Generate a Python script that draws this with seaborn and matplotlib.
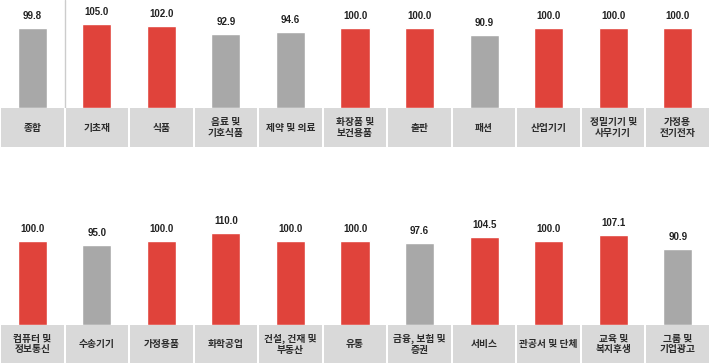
import matplotlib
matplotlib.use('Agg')
import matplotlib.pyplot as plt
from matplotlib.patches import Rectangle
import seaborn as sns

# 데이터 (위쪽 줄 / 아래쪽 줄)
top_cats = ['종합', '기초재', '식품', '음료 및\n기호식품', '제약 및 의료', '화장품 및\n보건용품',
            '출판', '패션', '산업기기', '정밀기기 및\n사무기기', '가정용\n전기전자']
top_vals = [99.8, 105.0, 102.0, 92.9, 94.6, 100.0, 100.0, 90.9, 100.0, 100.0, 100.0]

bottom_cats = ['컴퓨터 및\n정보통신', '수송기기', '가정용품', '화학공업', '건설, 건재 및\n부동산', '유통',
               '금융, 보험 및\n증권', '서비스', '관공서 및 단체', '교육 및\n복지후생', '그룹 및\n기업광고']
bottom_vals = [100.0, 95.0, 100.0, 110.0, 100.0, 100.0, 97.6, 104.5, 100.0, 107.1, 90.9]

RED = '#e0433b'
GREY = '#a8a8a8'
BOX = '#d9d9d9'

sns.set_style('white')
plt.rcParams['font.family'] = ['Noto Sans CJK KR', 'DejaVu Sans']

W, H = 710, 363
fig = plt.figure(figsize=(W / 100, H / 100), dpi=100)


def px_axes(top, bottom):
    # 픽셀 위치(위에서부터)로 axes 생성
    return fig.add_axes([0, 1 - bottom / H, 1, (bottom - top) / H])


def draw_row(ax, lab_ax, cats, vals, ymax):
    level = ['up' if v >= 100 else 'down' for v in vals]
    sns.barplot(x=cats, y=vals, hue=level, order=cats, palette={'up': RED, 'down': GREY},
                dodge=False, width=0.45, legend=False, saturation=1, ax=ax)
    for c in ax.containers:
        ax.bar_label(c, fmt='%.1f', padding=5, fontsize=7, color='#222222',
                     family=['Liberation Sans', 'DejaVu Sans'], fontweight='bold')
    ax.set_xlim(-0.5, len(cats) - 0.5)
    ax.set_ylim(0, ymax)
    ax.axis('off')

    # 아래쪽 회색 라벨 박스
    gap = 0.016
    for i, name in enumerate(cats):
        lab_ax.add_patch(Rectangle((i - 0.5 + gap, 0), 1 - 2 * gap, 1, color=BOX, lw=0))
        lab_ax.text(i, 0.5, name, ha='center', va='center', fontsize=7, color='#2b2b2b',
                    fontweight='bold', linespacing=1.1)
    lab_ax.set_xlim(-0.5, len(cats) - 0.5)
    lab_ax.set_ylim(0, 1)
    lab_ax.axis('off')


# 위쪽 줄
ax1 = px_axes(0, 108)
lab1 = px_axes(108, 147)
draw_row(ax1, lab1, top_cats, top_vals, 108 / 0.8)
ax1.axvline(0.5, color='#cccccc', lw=1)

# 아래쪽 줄
ax2 = px_axes(212, 325)
lab2 = px_axes(325, 363)
draw_row(ax2, lab2, bottom_cats, bottom_vals, 113 / 0.84)

fig.savefig('out.png', dpi=100)
